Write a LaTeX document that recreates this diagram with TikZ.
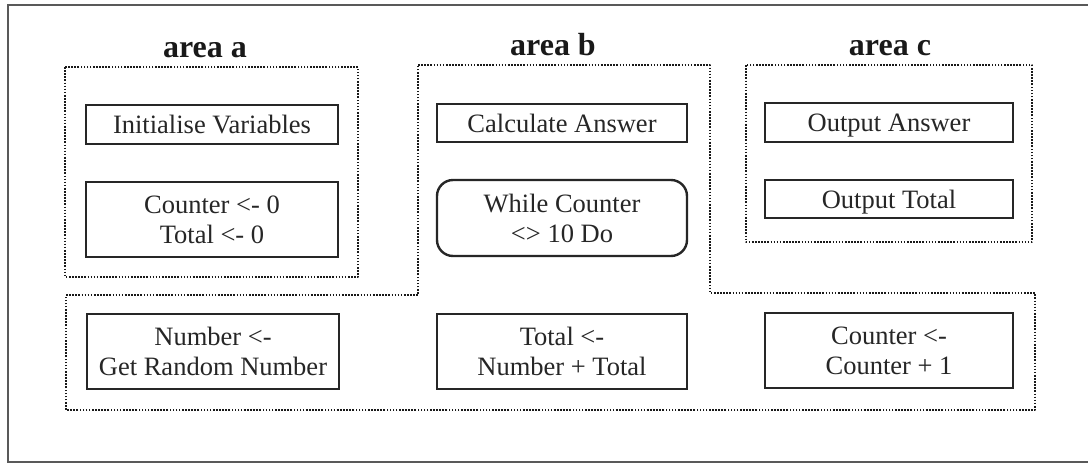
\documentclass[tikz,border=0pt]{standalone}
\usepackage{fontspec}
\setmainfont{Liberation Serif}
\begin{document}
\begin{tikzpicture}[x=1pt,y=-1pt,
  ink/.style={draw=black!85, line width=2.4pt},
  area/.style={draw=black!90, line width=2.4pt, dash pattern=on 1.6pt off 1.5pt, line join=round},
  stepbox/.style={ink, rectangle, minimum width=250pt, align=center, text=black!85,
    font=\fontsize{26.5}{30}\selectfont, inner sep=0pt},
  oneline/.style={stepbox, text height=18pt, text depth=0pt},
  roundbox/.style={stepbox, rounded corners=16pt},
  title/.style={anchor=base, text=black!90, font=\fontsize{32}{36}\selectfont\bfseries}]
\useasboundingbox (0,0) rectangle (1088,464);
\fill[white] (0,0) rectangle (1088,464);

% outer frame
\draw[draw=black!65, line width=2pt] (1088,5) -- (8,5) -- (8,462) -- (1088,462);

% area titles
\node[title] (ta) at (205,57) {area a};
\node[title] (tb) at (553,55) {area b};
\node[title] (tc) at (890,55) {area c};

% dotted area outlines
\draw[area] (65,67) rectangle (358,277);
\draw[area] (746,65) rectangle (1032,242);
\draw[area] (418,65) -- (710,65) -- (710,293) -- (1035,293) -- (1035,410)
  -- (66,410) -- (66,295) -- (418,295) -- cycle;

% area a
\node[oneline, minimum width=252pt, minimum height=39pt] (init) at (212,124.5) {Initialise Variables};
\node[stepbox, minimum width=252pt, minimum height=75pt] (zero) at (212,219.5) {Counter <- 0\\Total <- 0};

% area b
\node[oneline, minimum width=250pt, minimum height=38pt] (calc) at (562,123) {Calculate Answer};
\node[roundbox, minimum width=250pt, minimum height=76pt] (loop) at (562,218) {While Counter\\<> 10 Do};

% area c
\node[oneline, minimum width=248pt, minimum height=39pt] (outa) at (889,122.5) {Output Answer};
\node[oneline, minimum width=248pt, minimum height=38pt] (outt) at (889,199) {Output Total};

% loop body
\node[stepbox, minimum width=252pt, minimum height=75pt] (num) at (213,351.5) {Number <-\\Get Random Number};
\node[stepbox, minimum width=250pt, minimum height=75pt] (tot) at (562,351.5) {Total <-\\Number + Total};
\node[stepbox, minimum width=248pt, minimum height=75pt] (inc) at (889,350.5) {Counter <-\\Counter + 1};
\end{tikzpicture}
\end{document}
